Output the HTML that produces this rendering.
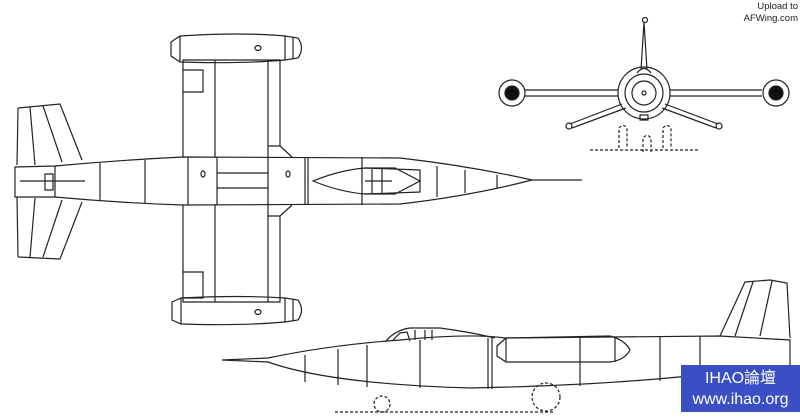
<!DOCTYPE html>
<html><head><style>
html,body{margin:0;padding:0;background:#fff;width:800px;height:418px;overflow:hidden}
svg{display:block}
.wm{position:absolute;left:681px;top:365px;width:119px;height:47px;background:#3b4fc4;color:#fff;font-family:"Liberation Sans","Noto Sans CJK SC",sans-serif;text-align:center;font-size:16px;line-height:21px;padding-top:3px;box-sizing:border-box}
.up{position:absolute;right:2px;top:1px;font-family:"Liberation Sans",sans-serif;font-size:9.5px;line-height:12px;text-align:right;color:#222}
</style></head><body>
<svg width="800" height="418" viewBox="0 0 800 418" fill="none" stroke="#222" stroke-width="1.2">
<!-- TOP VIEW -->
<path d="M18,108 L60,104 L82,160 M18,108 L17,165 M30,107 L35,165 M43,106 L62,162"/>
<path d="M18,257 L60,259 L82,202 M18,257 L17,197 M30,257 L35,198 M43,257 L62,200"/>
<path d="M15,167 L55,166 Q120,160 183,157 L400,158 Q470,166 532,180 Q470,196 400,204 L183,205 Q120,203 55,197 L15,197 Z"/>
<path d="M55,166 L55,197 M100,163 L100,200 M145,160 L145,203 M188,157 L188,205 M217,157 L217,205 M268,157 L268,205 M305,157 L305,205 M308,157 L308,205 M362,157 L362,205 M437,166 L437,197 M465,170 L465,193 M497,175 L497,188"/>
<path d="M217,173 L268,173 M217,188 L268,188"/>
<path d="M20,181 L85,181 M45,174 h8 v16 h-8 z"/>
<path d="M532,180 L582,180"/>
<path d="M313,181 Q340,170 365,168 L420,170 L420,192 L365,194 Q340,192 313,181 Z"/>
<path d="M365,168 L395,168 L420,181 L395,194 L365,194 M372,169 v24 M382,169 v24 M365,181 h27"/>
<path d="M183,157 L183,60 L280,60 L280,146 L292,157 M215,60 L215,157 M268,60 L268,157 M268,146 L280,146 M183,70 L203,70 L203,92 L183,92"/>
<path d="M183,205 L183,302 L280,302 L280,216 L292,205 M215,205 L215,302 M268,205 L268,302 M268,216 L280,216 M183,272 L203,272 L203,298 L183,298"/>
<path d="M171,42 L180,36 Q240,32 285,36 L298,38 Q305,48 298,58 L285,60 Q240,64 180,62 L171,56 Z M180,36 L180,62 M285,36 L285,60 M293,37 L293,59"/>
<ellipse cx="258" cy="48" rx="3" ry="2.5"/>
<path d="M172,302 L181,298 Q240,295 285,298 L298,300 Q305,310 298,320 L285,322 Q240,326 181,324 L172,320 Z M181,298 L181,324 M285,298 L285,322 M293,299 L293,321"/>
<ellipse cx="258" cy="312" rx="3" ry="2.5"/>
<ellipse cx="203" cy="174" rx="2" ry="3"/><ellipse cx="288" cy="174" rx="2" ry="3"/>
<!-- FRONT VIEW -->
<circle cx="644" cy="93" r="26"/><circle cx="644" cy="93" r="19"/><circle cx="644" cy="93" r="12"/><circle cx="644" cy="93" r="2"/>
<path d="M641,70 L644,22 L647,70 M637,73 Q644,64 651,73"/>
<circle cx="645" cy="20" r="2.5"/>
<path d="M525,90 L618,90 M525,96 L618,96 M670,90 L762,90 M670,96 L762,96"/>
<path d="M622,104 L570,124 M626,108 L572,128 M665,104 L718,124 M662,108 L716,128"/>
<circle cx="569" cy="126" r="3"/><circle cx="719" cy="126" r="3"/>
<circle cx="512" cy="93" r="13"/><circle cx="512" cy="93" r="7" fill="#111"/>
<circle cx="776" cy="93" r="13"/><circle cx="776" cy="93" r="7" fill="#111"/>
<path d="M640,115 h8 v5 h-8 z"/>
<g stroke-dasharray="3,2"><path d="M590,150 L700,150 M619,148 v-20 q4,-5 8,0 v20 M643,152 v-14 q4,-5 8,0 v14 M663,148 v-20 q4,-5 8,0 v20"/></g>
<!-- SIDE VIEW -->
<path d="M222,360 L268,358 Q330,345 400,340 Q470,333 505,338 L720,336 L790,340 L790,368 L725,372 Q620,385 470,388 Q330,384 268,362 Z"/>
<path d="M385,342 Q395,330 410,328 L440,328 Q470,332 495,338"/>
<path d="M393,340 L400,333 L407,332 L410,341 M415,330 v10 M425,330 v10 M432,330 v10"/>
<path d="M305,355 v27 M338,349 v36 M367,345 v42 M420,340 v48 M488,338 v51 M492,338 v51 M580,336 v50 M660,336 v45 M700,336 v40"/>
<path d="M497,346 L506,338 L610,336 Q625,340 630,350 Q625,360 610,362 L506,362 L497,356 Z M506,338 v24 M615,337 v25"/>
<path d="M720,336 L745,282 L770,280 L787,283 L790,338 M753,282 L735,336 M772,281 L760,336"/>
<g stroke-dasharray="3,2"><path d="M335,412 L555,412"/><circle cx="382" cy="404" r="8"/><circle cx="546" cy="397" r="14"/></g>
</svg>
<div class="up">Upload to<br>AFWing.com</div>
<div class="wm">IHAO論壇<br>www.ihao.org</div>
</body></html>
